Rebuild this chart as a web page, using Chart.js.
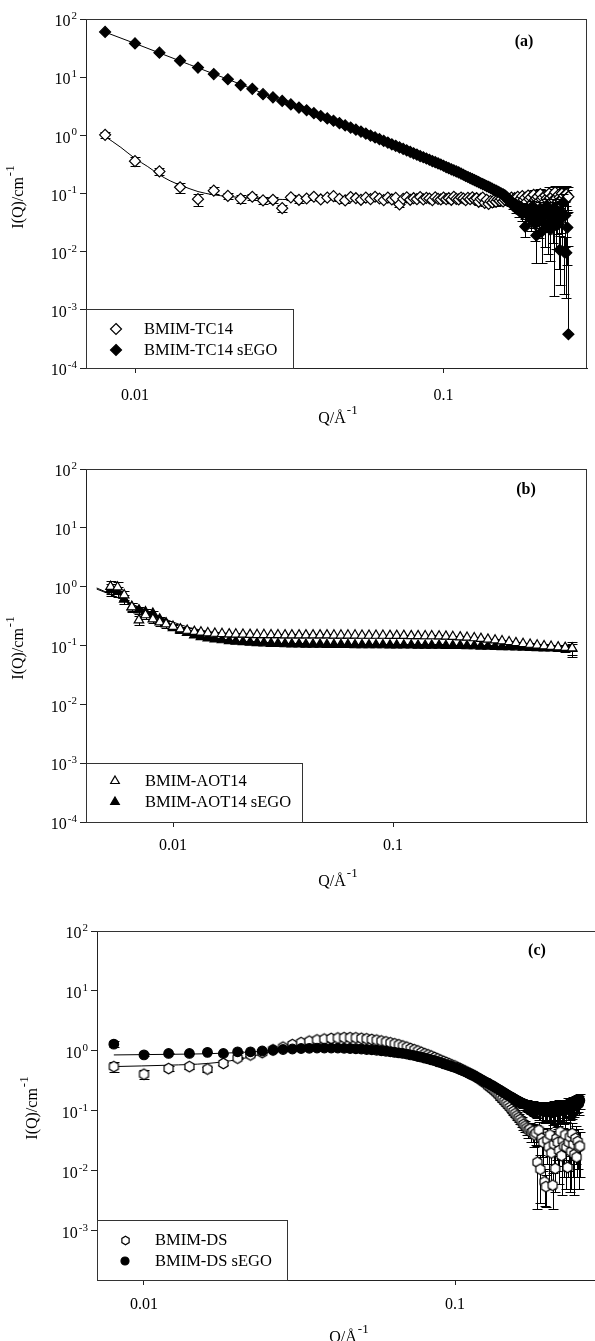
<!DOCTYPE html>
<html>
<head>
<meta charset="utf-8">
<title>SANS I(Q) panels</title>
<script src="https://cdn.jsdelivr.net/npm/chart.js@4.4.1/dist/chart.umd.min.js"></script>
<style>
html, body { margin:0; padding:0; background:#ffffff; width:595px; height:1341px; overflow:hidden; position:relative; }
canvas { position:absolute; left:0; }
</style>
</head>
<body>
<canvas id="ca" width="595" height="430" style="top:0px;width:595px;height:430px"></canvas>
<canvas id="cb" width="595" height="460" style="top:430px;width:595px;height:460px"></canvas>
<canvas id="cc" width="610" height="461" style="top:880px;width:610px;height:461px"></canvas>
<script>
// ---------------- tick labels and titles ----------------
const yTickExps = [2, 1, 0, -1, -2, -3, -4];
const xTickValues = [0.01, 0.1];
const xTickLabels = ['0.01', '0.1'];
const yTitle = ['I(Q)/cm', '-1'];
const xTitle = ['Q/\u00C5', '-1'];
const panelTags = ['(a)', '(b)', '(c)'];
const labelsA = ['BMIM-TC14', 'BMIM-TC14 sEGO'];
const labelsB = ['BMIM-AOT14', 'BMIM-AOT14 sEGO'];
const labelsC = ['BMIM-DS', 'BMIM-DS sEGO'];

// ---------------- Q grid (panels a and c) ----------------
const qSANS = [
0.008,0.010,0.012,0.014,0.016,0.018,0.020,0.022,0.024,0.026,
0.028,0.030,0.032,0.034,0.036,0.038,0.040,0.042,0.044,0.046,
0.048,0.050,0.052,0.054,0.056,0.058,0.060,0.062,0.064,0.066,
0.068,0.070,0.072,0.074,0.076,0.078,0.080,0.082,0.084,0.086,
0.088,0.090,0.092,0.094,0.096,0.098,0.100,0.102,0.104,0.106,
0.108,0.110,0.112,0.114,0.116,0.118,0.120,0.122,0.124,0.126,
0.128,0.130,0.132,0.134,0.136,0.138,0.140,0.142,0.144,0.146,
0.148,0.150,0.152,0.154,0.156,0.158,0.160,0.162,0.164,0.166,
0.168,0.170,0.172,0.174,0.176,0.178,0.180,0.182,0.184,0.186,
0.188,0.190,0.192,0.194,0.196,0.198,0.200,0.202,0.204,0.206,
0.208,0.210,0.212,0.214,0.216,0.218,0.220,0.222,0.224,0.226,
0.228,0.230,0.232,0.234,0.236,0.238,0.240,0.242,0.244,0.246,
0.248,0.250,0.252,0.254];

// ---------------- panel (a) ----------------
const iA_tc14 = [
1.02,0.36,0.24,0.128,0.080,0.112,0.091,0.081,0.088,0.076,
0.078,0.056,0.086,0.078,0.082,0.088,0.079,0.085,0.090,0.081,
0.076,0.087,0.083,0.078,0.085,0.080,0.088,0.082,0.077,0.085,
0.079,0.084,0.065,0.081,0.086,0.078,0.083,0.080,0.087,0.079,
0.084,0.082,0.077,0.086,0.081,0.079,0.085,0.080,0.083,0.078,
0.088,0.081,0.079,0.085,0.082,0.077,0.084,0.080,0.086,0.079,
0.083,0.072,0.081,0.085,0.069,0.078,0.066,0.074,0.070,0.077,
0.072,0.079,0.075,0.081,0.073,0.078,0.082,0.076,0.080,0.085,
0.077,0.083,0.079,0.088,0.075,0.082,0.090,0.078,0.085,0.072,
0.092,0.080,0.086,0.068,0.095,0.078,0.083,0.088,0.073,0.098,
0.080,0.085,0.070,0.092,0.082,0.076,0.100,0.084,0.072,0.090,
0.079,0.105,0.083,0.070,0.095,0.086,0.078,0.100,0.082,0.092,
0.075,0.097,0.085,0.088];
const eA_tc14 = [
0.12,0.06,0.035,0.025,0.02,0.015,0.012,0.012,0.012,0.01,
0.01,0.008,0.01,0.01,0.006,0.006,0.006,0.006,0.006,0.006,
0.006,0.006,0.006,0.006,0.006,0.006,0.006,0.006,0.006,0.006,
0.006,0.006,0.006,0.006,0.006,0.006,0.006,0.006,0.006,0.006,
0.006,0.006,0.006,0.006,0.006,0.006,0.006,0.006,0.006,0.006,
0.006,0.006,0.006,0.006,0.006,0.006,0.006,0.006,0.006,0.006,
0.006,0.008,0.008,0.008,0.008,0.008,0.008,0.008,0.008,0.008,
0.01,0.01,0.01,0.01,0.01,0.01,0.01,0.01,0.01,0.01,
0.012,0.012,0.012,0.012,0.012,0.012,0.012,0.012,0.012,0.012,
0.015,0.018,0.015,0.02,0.018,0.02,0.022,0.02,0.025,0.02,
0.022,0.025,0.02,0.025,0.028,0.022,0.03,0.025,0.028,0.03,
0.025,0.03,0.028,0.025,0.032,0.03,0.028,0.035,0.03,0.032,
0.03,0.035,0.032,0.04];
const iA_sego = [
60,38,26.4,19.2,14.6,11.3,9.2,7.3,6.3,5.1,
4.5,3.9,3.4,3.0,2.7,2.4,2.15,1.95,1.78,1.62,
1.48,1.36,1.25,1.16,1.07,0.99,0.92,0.86,0.80,0.75,
0.70,0.66,0.62,0.585,0.55,0.52,0.49,0.465,0.44,0.42,
0.40,0.38,0.36,0.345,0.33,0.315,0.30,0.285,0.272,0.26,
0.25,0.24,0.23,0.22,0.21,0.20,0.192,0.184,0.177,0.170,
0.163,0.157,0.150,0.145,0.140,0.134,0.130,0.125,0.120,0.116,
0.112,0.108,0.104,0.100,0.097,0.093,0.088,0.080,0.076,0.070,
0.062,0.066,0.055,0.060,0.050,0.058,0.045,0.052,0.027,0.055,
0.042,0.050,0.036,0.060,0.040,0.030,0.019,0.045,0.033,0.055,
0.022,0.040,0.048,0.030,0.062,0.028,0.042,0.024,0.050,0.036,
0.028,0.055,0.035,0.045,0.030,0.0107,0.048,0.038,0.070,0.0099,
0.042,0.0096,0.026,0.00038];
const eA_sego = [
0,0,0,0,0,0,0,0,0,0,
0,0,0,0,0,0,0,0,0,0,
0,0,0,0,0,0,0,0,0,0,
0,0,0,0,0,0,0,0,0,0,
0,0,0,0,0,0,0,0,0,0,
0,0,0,0,0,0,0,0,0,0,
0,0,0,0,0,0,0,0,0,0,
0.004,0.004,0.005,0.005,0.005,0.006,0.006,0.007,0.007,0.008,
0.008,0.009,0.009,0.01,0.01,0.011,0.011,0.012,0.009,0.012,
0.012,0.013,0.013,0.014,0.014,0.015,0.0125,0.015,0.016,0.017,
0.0155,0.017,0.018,0.018,0.02,0.019,0.02,0.017,0.021,0.022,
0.0263,0.024,0.024,0.025,0.025,0.008,0.027,0.027,0.03,0.008,
0.03,0.008,0.02,0.012];
const fitA_tc14_q = [0.0079,0.009,0.010,0.011,0.012,0.013,0.014,0.016,0.018,0.020,0.025,0.030,0.034,0.05,0.1,0.15,0.2,0.254];
const fitA_tc14_i = [1.0,0.62,0.40,0.29,0.21,0.165,0.14,0.108,0.095,0.089,0.082,0.079,0.078,0.078,0.078,0.078,0.078,0.078];
const fitA_sego_q = [0.0079,0.010,0.015,0.020,0.030,0.040,0.050,0.060,0.080,0.100,0.120,0.140,0.160,0.200,0.254];
const fitA_sego_i = [61,38,16.5,9.2,3.9,2.15,1.36,0.92,0.49,0.30,0.192,0.13,0.09,0.05,0.03];

// ---------------- panel (b) ----------------
const qB = [
0.0052,0.0056,0.0060,0.0065,0.0070,0.0075,0.0081,0.0087,0.0093,0.0100,
0.0108,0.0116,0.0125,0.0134,0.0144,0.0155,0.0167,0.0180,0.0193,0.0208,
0.0224,0.0241,0.0259,0.0279,0.0300,0.0323,0.0347,0.0374,0.0402,0.0433,
0.0466,0.0501,0.0539,0.0580,0.0624,0.0672,0.0723,0.0778,0.0837,0.0900,
0.0969,0.104,0.112,0.121,0.130,0.140,0.150,0.162,0.174,0.187,
0.202,0.217,0.234,0.251,0.270,0.291,0.313,0.337,0.362,0.390,
0.420,0.452,0.486,0.523,0.563,0.606,0.652];
const iB_aot = [
1.00,0.98,0.72,0.45,0.27,0.33,0.28,0.25,0.23,0.21,
0.19,0.18,0.172,0.168,0.163,0.160,0.158,0.156,0.155,0.154,
0.153,0.152,0.152,0.151,0.151,0.150,0.150,0.150,0.150,0.150,
0.150,0.150,0.149,0.149,0.149,0.149,0.148,0.148,0.148,0.148,
0.147,0.147,0.147,0.146,0.146,0.145,0.145,0.144,0.143,0.141,
0.139,0.137,0.134,0.131,0.127,0.123,0.119,0.115,0.111,0.107,
0.104,0.101,0.098,0.096,0.094,0.092,0.090];
const eB_aot = [
0.24,0.22,0.12,0.08,0.05,0.05,0.04,0.035,0.03,0.025,
0.02,0.015,0.012,0.01,0.008,0.007,0.006,0.005,0.005,0.005,
0.004,0.004,0.004,0.004,0.004,0.004,0.004,0.004,0.004,0.004,
0.004,0.004,0.004,0.004,0.004,0.004,0.004,0.004,0.004,0.004,
0.004,0.004,0.004,0.004,0.004,0.004,0.004,0.004,0.004,0.004,
0.004,0.004,0.004,0.004,0.004,0.004,0.004,0.004,0.004,0.004,
0.005,0.005,0.006,0.006,0.008,0.01,0.025];
const iB_sego = [
0.89,0.82,0.61,0.455,0.40,0.37,0.35,0.28,0.24,0.20,
0.18,0.165,0.15,0.14,0.133,0.128,0.124,0.120,0.117,0.115,
0.113,0.111,0.110,0.108,0.107,0.106,0.105,0.105,0.104,0.104,
0.104,0.103,0.103,0.103,0.103,0.102,0.102,0.102,0.102,0.102,
0.101,0.101,0.101,0.101,0.100,0.100,0.100,0.100,0.099,0.099,
0.099,0.098,0.098,0.097,0.097,0.096,0.095,0.095,0.094,0.093,
0.092,0.091,0.090,0.090,0.089,0.088,0.088];
const eB_sego = [
0.2,0.15,0.1,0.07,0.06,0.05,0.04,0.03,0.025,0.02,
0.015,0.012,0.01,0.008,0.007,0.006,0.005,0.005,0.004,0.004,
0.004,0.004,0.004,0.004,0.004,0.004,0.004,0.004,0.004,0.004,
0.004,0.004,0.004,0.004,0.004,0.004,0.004,0.004,0.004,0.004,
0.004,0.004,0.004,0.004,0.004,0.004,0.004,0.004,0.004,0.004,
0.004,0.004,0.004,0.004,0.004,0.004,0.004,0.004,0.004,0.004,
0.005,0.005,0.006,0.006,0.008,0.01,0.02];
const fitB_q = [0.0045,0.005,0.006,0.007,0.008,0.010,0.012,0.015,0.020,0.030,0.050,0.100,0.200,0.300,0.500,0.652];
const fitB_aot_i = [0.95,0.80,0.58,0.44,0.35,0.25,0.20,0.17,0.158,0.152,0.150,0.148,0.141,0.12,0.097,0.091];
const fitB_sego_i = [0.91,0.78,0.58,0.45,0.36,0.22,0.165,0.13,0.116,0.108,0.104,0.101,0.099,0.094,0.090,0.088];

// ---------------- panel (c) ----------------
const iC_ds = [
0.55,0.41,0.51,0.55,0.50,0.62,0.76,0.86,0.94,1.05,
1.16,1.28,1.38,1.46,1.53,1.58,1.62,1.65,1.67,1.67,
1.66,1.63,1.60,1.56,1.52,1.47,1.42,1.37,1.32,1.27,
1.21,1.16,1.10,1.05,1.00,0.95,0.90,0.86,0.82,0.78,
0.74,0.70,0.67,0.64,0.61,0.58,0.56,0.53,0.51,0.48,
0.46,0.44,0.42,0.40,0.38,0.36,0.34,0.32,0.30,0.285,
0.26,0.245,0.23,0.215,0.20,0.185,0.17,0.158,0.146,0.135,
0.125,0.115,0.106,0.098,0.090,0.083,0.077,0.072,0.066,0.060,
0.056,0.052,0.048,0.050,0.044,0.046,0.040,0.043,0.014,0.048,
0.0107,0.035,0.030,0.0066,0.0055,0.033,0.025,0.040,0.020,0.0058,
0.028,0.011,0.035,0.030,0.022,0.045,0.018,0.032,0.026,0.040,
0.025,0.0115,0.030,0.037,0.021,0.042,0.028,0.019,0.035,0.017,
0.031,0.025,0.026];
const eC_ds = [
0.1,0.07,0.05,0.05,0.05,0.04,0.03,0.03,0.03,0.03,
0.02,0.02,0.02,0.02,0.02,0.02,0.02,0.02,0.02,0.02,
0.02,0.02,0.02,0.02,0.02,0.02,0.02,0.02,0.02,0.02,
0.02,0.02,0.02,0.02,0.02,0.02,0.02,0.02,0.02,0.02,
0.02,0.02,0.02,0.02,0.02,0.02,0.02,0.02,0.02,0.02,
0.02,0.02,0.02,0.02,0.02,0.02,0.02,0.02,0.02,0.02,
0.015,0.015,0.015,0.015,0.015,0.015,0.015,0.015,0.015,0.015,
0.012,0.012,0.012,0.012,0.012,0.012,0.012,0.012,0.012,0.012,
0.012,0.012,0.012,0.014,0.014,0.015,0.015,0.016,0.0117,0.018,
0.0078,0.018,0.02,0.004,0.003,0.02,0.02,0.022,0.015,0.0035,
0.018,0.0065,0.02,0.02,0.016,0.022,0.014,0.02,0.018,0.022,
0.02,0.0036,0.02,0.0325,0.016,0.022,0.02,0.015,0.022,0.0091,
0.02,0.02,0.018];
const iC_sego = [
1.30,0.86,0.91,0.91,0.95,0.91,0.97,0.97,1.00,1.03,
1.06,1.08,1.10,1.11,1.12,1.12,1.12,1.12,1.11,1.10,
1.09,1.08,1.06,1.05,1.03,1.01,0.99,0.97,0.95,0.93,
0.91,0.89,0.86,0.84,0.81,0.79,0.76,0.74,0.71,0.69,
0.66,0.64,0.61,0.59,0.57,0.55,0.53,0.51,0.49,0.47,
0.45,0.43,0.41,0.395,0.38,0.36,0.345,0.33,0.315,0.30,
0.29,0.275,0.265,0.252,0.24,0.23,0.22,0.21,0.20,0.192,
0.184,0.176,0.17,0.163,0.157,0.151,0.146,0.141,0.137,0.133,
0.129,0.126,0.122,0.12,0.117,0.115,0.113,0.11,0.108,0.104,
0.106,0.10,0.105,0.098,0.104,0.10,0.097,0.105,0.10,0.094,
0.108,0.10,0.104,0.097,0.11,0.102,0.106,0.112,0.10,0.115,
0.108,0.12,0.112,0.118,0.125,0.115,0.13,0.122,0.135,0.128,
0.14,0.132,0.15];
const eC_sego = [
0.15,0.05,0.03,0.03,0.03,0.03,0.03,0.03,0.03,0.03,
0.02,0.02,0.02,0.02,0.02,0.02,0.02,0.02,0.02,0.02,
0.02,0.02,0.02,0.02,0.02,0.02,0.02,0.02,0.02,0.02,
0.02,0.02,0.02,0.02,0.02,0.02,0.02,0.02,0.02,0.02,
0.02,0.02,0.02,0.02,0.02,0.02,0.02,0.02,0.02,0.02,
0.02,0.02,0.02,0.02,0.02,0.02,0.02,0.02,0.02,0.02,
0.015,0.015,0.015,0.015,0.015,0.015,0.015,0.015,0.015,0.015,
0.018,0.018,0.018,0.018,0.02,0.02,0.02,0.02,0.022,0.022,
0.025,0.025,0.025,0.028,0.028,0.03,0.03,0.03,0.032,0.032,
0.035,0.035,0.035,0.035,0.035,0.035,0.035,0.035,0.035,0.035,
0.04,0.04,0.04,0.04,0.04,0.04,0.04,0.04,0.04,0.04,
0.042,0.042,0.042,0.042,0.042,0.042,0.042,0.042,0.042,0.042,
0.045,0.045,0.04];
const fitC_q = [0.008,0.012,0.016,0.020,0.025,0.030,0.035,0.040,0.045,0.050,0.060,0.070,0.080,0.100,0.120,0.140,0.160,0.180,0.200,0.252];
const fitC_ds_i = [0.55,0.58,0.62,0.72,0.95,1.22,1.48,1.62,1.66,1.63,1.42,1.16,0.90,0.56,0.34,0.19,0.092,0.05,0.03,0.02];
const fitC_sego_i = [0.86,0.88,0.90,0.94,1.00,1.06,1.10,1.12,1.11,1.08,0.99,0.89,0.76,0.53,0.345,0.22,0.146,0.113,0.10,0.12];

// ---------------- drawing helpers ----------------
const FONT = '"Liberation Serif","Times New Roman",serif';

function hexagon(r) {
  const s = Math.ceil(2 * r + 4);
  const c = document.createElement('canvas');
  c.width = s; c.height = s;
  const g = c.getContext('2d');
  g.beginPath();
  for (let i = 0; i < 6; i++) {
    const a = -Math.PI / 2 + i * Math.PI / 3;
    const px = s / 2 + r * Math.cos(a), py = s / 2 + r * Math.sin(a);
    if (i) g.lineTo(px, py); else g.moveTo(px, py);
  }
  g.closePath();
  g.fillStyle = '#fff'; g.fill();
  g.strokeStyle = '#000'; g.lineWidth = 1.2; g.stroke();
  return c;
}
const HEX = hexagon(5.2);
const HEX_LEG = hexagon(4.2);

function marker(ctx, style, r, filled, x, y) {
  if (style instanceof HTMLCanvasElement) {
    ctx.drawImage(style, Math.round(x - style.width / 2), Math.round(y - style.height / 2));
    return;
  }
  ctx.beginPath();
  if (style === 'rectRot') {
    ctx.moveTo(x, y - r); ctx.lineTo(x + r, y); ctx.lineTo(x, y + r); ctx.lineTo(x - r, y); ctx.closePath();
  } else if (style === 'triangle') {
    ctx.moveTo(x, y - r); ctx.lineTo(x + 0.866 * r, y + 0.5 * r); ctx.lineTo(x - 0.866 * r, y + 0.5 * r); ctx.closePath();
  } else {
    ctx.arc(x, y, r, 0, Math.PI * 2);
  }
  ctx.fillStyle = filled ? '#000' : '#fff'; ctx.fill();
  ctx.strokeStyle = '#000'; ctx.lineWidth = 1.2; ctx.stroke();
}

function powLabel(ctx, xr, y, e) {
  const sup = String(e);
  ctx.font = '16px ' + FONT; const wb = ctx.measureText('10').width;
  ctx.font = '11px ' + FONT; const ws = ctx.measureText(sup).width;
  const x0 = xr - ws - wb - 1;
  ctx.textAlign = 'left'; ctx.textBaseline = 'middle'; ctx.fillStyle = '#000';
  ctx.font = '16px ' + FONT; ctx.fillText('10', x0, y + 3);
  ctx.font = '11px ' + FONT; ctx.fillText(sup, x0 + wb + 1, y - 3);
}

function supText(ctx, base, sup, cx, cy, rotate) {
  ctx.save();
  ctx.translate(cx, cy);
  if (rotate) ctx.rotate(-Math.PI / 2);
  ctx.font = '16px ' + FONT; const wb = ctx.measureText(base).width;
  ctx.font = '13px ' + FONT; const ws = ctx.measureText(sup).width;
  const x0 = -(wb + ws + 1) / 2;
  ctx.textAlign = 'left'; ctx.textBaseline = 'middle'; ctx.fillStyle = '#000';
  ctx.font = '16px ' + FONT; ctx.fillText(base, x0, 0);
  ctx.font = '13px ' + FONT; ctx.fillText(sup, x0 + wb + 1, -8);
  ctx.restore();
}

const DECOR = {};

const decor = {
  id: 'decor',
  beforeDatasetDraw(chart, args) {
    const ds = chart.data.datasets[args.index];
    if (!ds.errY) return;
    const xs = chart.scales.x, ys = chart.scales.y, ctx = chart.ctx, a = chart.chartArea;
    ctx.save();
    ctx.beginPath(); ctx.rect(a.left, a.top, a.right - a.left, a.bottom - a.top); ctx.clip();
    ctx.strokeStyle = '#000'; ctx.lineWidth = 1;
    const cap = 5;
    ctx.beginPath();
    ds.data.forEach((p, i) => {
      const e = ds.errY[i];
      if (!e) return;
      const px = Math.round(xs.getPixelForValue(p.x)) + 0.5;
      const yHi = Math.round(ys.getPixelForValue(p.y + e)) + 0.5;
      const hasLo = p.y - e > 0;
      const yLo = hasLo ? Math.round(ys.getPixelForValue(p.y - e)) + 0.5 : ys.getPixelForValue(p.y);
      ctx.moveTo(px, yHi); ctx.lineTo(px, yLo);
      ctx.moveTo(px - cap, yHi); ctx.lineTo(px + cap, yHi);
      if (hasLo) { ctx.moveTo(px - cap, yLo); ctx.lineTo(px + cap, yLo); }
    });
    ctx.stroke();
    ctx.restore();
  },
  afterDraw(chart) {
    const o = DECOR[chart.canvas.id];
    const ctx = chart.ctx, a = chart.chartArea, ys = chart.scales.y;
    ctx.save();
    ctx.strokeStyle = '#333'; ctx.lineWidth = 1;
    ctx.beginPath();
    ctx.moveTo(a.left, a.top + 0.5); ctx.lineTo(a.right, a.top + 0.5);
    if (o.frameRight) { ctx.moveTo(a.right - 0.5, a.top); ctx.lineTo(a.right - 0.5, a.bottom); }
    ctx.stroke();
    yTickExps.forEach(e => {
      const v = Math.pow(10, e);
      if (v < ys.min * 0.999 || v > ys.max * 1.001) return;
      powLabel(ctx, a.left - 9, ys.getPixelForValue(v), e);
    });
    supText(ctx, yTitle[0], yTitle[1], o.yTitle[0], o.yTitle[1], true);
    supText(ctx, xTitle[0], xTitle[1], o.xTitle[0], o.xTitle[1], false);
    ctx.font = 'bold 16px ' + FONT; ctx.textAlign = 'center'; ctx.textBaseline = 'middle'; ctx.fillStyle = '#000';
    ctx.fillText(o.tag, o.tagPos[0], o.tagPos[1]);
    const L = o.legend;
    ctx.fillStyle = '#fff';
    ctx.fillRect(L.box[0], L.box[1], L.box[2] - L.box[0], L.box[3] - L.box[1]);
    ctx.strokeStyle = '#333'; ctx.lineWidth = 1;
    ctx.strokeRect(L.box[0] + 0.5, L.box[1] + 0.5, L.box[2] - L.box[0] - 1, L.box[3] - L.box[1]);
    L.items.forEach((it, k) => {
      const ds = chart.data.datasets[it.ds];
      marker(ctx, it.style, it.r, it.filled, L.mx, L.rows[k]);
      ctx.font = '16.5px ' + FONT; ctx.textAlign = 'left'; ctx.textBaseline = 'middle'; ctx.fillStyle = '#000';
      ctx.fillText(ds.label, L.tx, L.rows[k] + 1);
    });
    ctx.restore();
  }
};

function pts(q, v) { return v.map((y, i) => ({ x: q[i], y: y })); }
function markerSet(label, q, v, e, style, r, filled, order) {
  return {
    label: label, data: pts(q, v), errY: e, showLine: false, order: order,
    pointStyle: style, pointRadius: r, pointHoverRadius: r,
    pointBackgroundColor: filled ? '#000' : '#fff', pointBorderColor: '#000', pointBorderWidth: 1.2
  };
}
function fitSet(q, v) {
  return {
    label: 'fit', data: pts(q, v), showLine: true, pointRadius: 0, pointHoverRadius: 0,
    borderColor: '#000', borderWidth: 1, fill: false, cubicInterpolationMode: 'monotone', order: 5
  };
}

function makePanel(id, p) {
  DECOR[id] = p.decor;
  return new Chart(document.getElementById(id), {
    type: 'scatter',
    data: { datasets: p.datasets },
    options: {
      responsive: false, animation: false, devicePixelRatio: 1,
      events: [],
      layout: { padding: { top: p.T, right: p.padR, left: 0, bottom: 0 } },
      plugins: { legend: { display: false }, tooltip: { enabled: false } },
      scales: {
        x: {
          type: 'logarithmic', min: p.xmin, max: p.xmax,
          afterBuildTicks: s => { s.ticks = xTickValues.map(v => ({ value: v })); },
          afterFit: s => { s.height = p.xH; },
          ticks: { callback: (v, i) => xTickLabels[i], color: '#000', font: { family: FONT, size: 16 },
                   padding: p.xPad, maxRotation: 0, autoSkip: false },
          grid: { display: true, drawOnChartArea: false, drawTicks: true, tickLength: 5, color: '#222', lineWidth: 1 },
          border: { display: true, color: '#222', width: 1 }
        },
        y: {
          type: 'logarithmic', min: p.ymin, max: p.ymax,
          afterBuildTicks: s => {
            s.ticks = yTickExps.map(e => ({ value: Math.pow(10, e) }))
              .filter(t => t.value >= s.min * 0.999 && t.value <= s.max * 1.001);
          },
          afterFit: s => { s.width = p.L; },
          ticks: { display: false },
          grid: { display: true, drawOnChartArea: false, drawTicks: true, tickLength: 6, color: '#222', lineWidth: 1 },
          border: { display: true, color: '#222', width: 1 }
        }
      }
    },
    plugins: [decor]
  });
}

// ---------------- panel (a) ----------------
makePanel('ca', {
  T: 19, padR: 8, L: 86, xH: 62, xPad: 13,
  xmin: 0.006937, xmax: 0.2918, ymin: 1e-4, ymax: 100,
  datasets: [
    markerSet(labelsA[0], qSANS, iA_tc14, eA_tc14, 'rectRot', 5.5, false, 1),
    markerSet(labelsA[1], qSANS, iA_sego, eA_sego, 'rectRot', 5.5, true, 0),
    fitSet(fitA_tc14_q, fitA_tc14_i),
    fitSet(fitA_sego_q, fitA_sego_i)
  ],
  decor: {
    frameRight: true, yTitle: [19, 197], xTitle: [338, 419], tag: panelTags[0], tagPos: [524, 42],
    legend: { box: [86, 309, 294, 368], rows: [329, 350], mx: 116, tx: 144,
      items: [{ ds: 0, style: 'rectRot', r: 5.5, filled: false }, { ds: 1, style: 'rectRot', r: 5.5, filled: true }] }
  }
});

// ---------------- panel (b) ----------------
makePanel('cb', {
  T: 39, padR: 8, L: 86, xH: 68, xPad: 9,
  xmin: 0.004023, xmax: 0.7616, ymin: 1e-4, ymax: 100,
  datasets: [
    markerSet(labelsB[0], qB, iB_aot, eB_aot, 'triangle', 5.5, false, 0),
    markerSet(labelsB[1], qB, iB_sego, eB_sego, 'triangle', 5.5, true, 1),
    fitSet(fitB_q, fitB_aot_i),
    fitSet(fitB_q, fitB_sego_i)
  ],
  decor: {
    frameRight: true, yTitle: [19, 218], xTitle: [338, 452], tag: panelTags[1], tagPos: [526, 60],
    legend: { box: [86, 333, 303, 392], rows: [351, 372], mx: 115, tx: 145,
      items: [{ ds: 0, style: 'triangle', r: 5, filled: false }, { ds: 1, style: 'triangle', r: 5, filled: true }] }
  }
});

// ---------------- panel (c) ----------------
makePanel('cc', {
  T: 51, padR: 10, L: 97, xH: 61, xPad: 10,
  xmin: 0.007063, xmax: 0.2925, ymin: 1.525e-4, ymax: 100,
  datasets: [
    markerSet(labelsC[0], qSANS, iC_ds, eC_ds, HEX, 5, false, 1),
    markerSet(labelsC[1], qSANS, iC_sego, eC_sego, 'circle', 4.8, true, 0),
    fitSet(fitC_q, fitC_ds_i),
    fitSet(fitC_q, fitC_sego_i)
  ],
  decor: {
    frameRight: false, yTitle: [33, 228], xTitle: [349, 458], tag: panelTags[2], tagPos: [537, 71],
    legend: { box: [97, 340, 288, 400], rows: [360, 381], mx: 125, tx: 155,
      items: [{ ds: 0, style: HEX_LEG, r: 4, filled: false }, { ds: 1, style: 'circle', r: 4, filled: true }] }
  }
});
</script>
</body>
</html>
